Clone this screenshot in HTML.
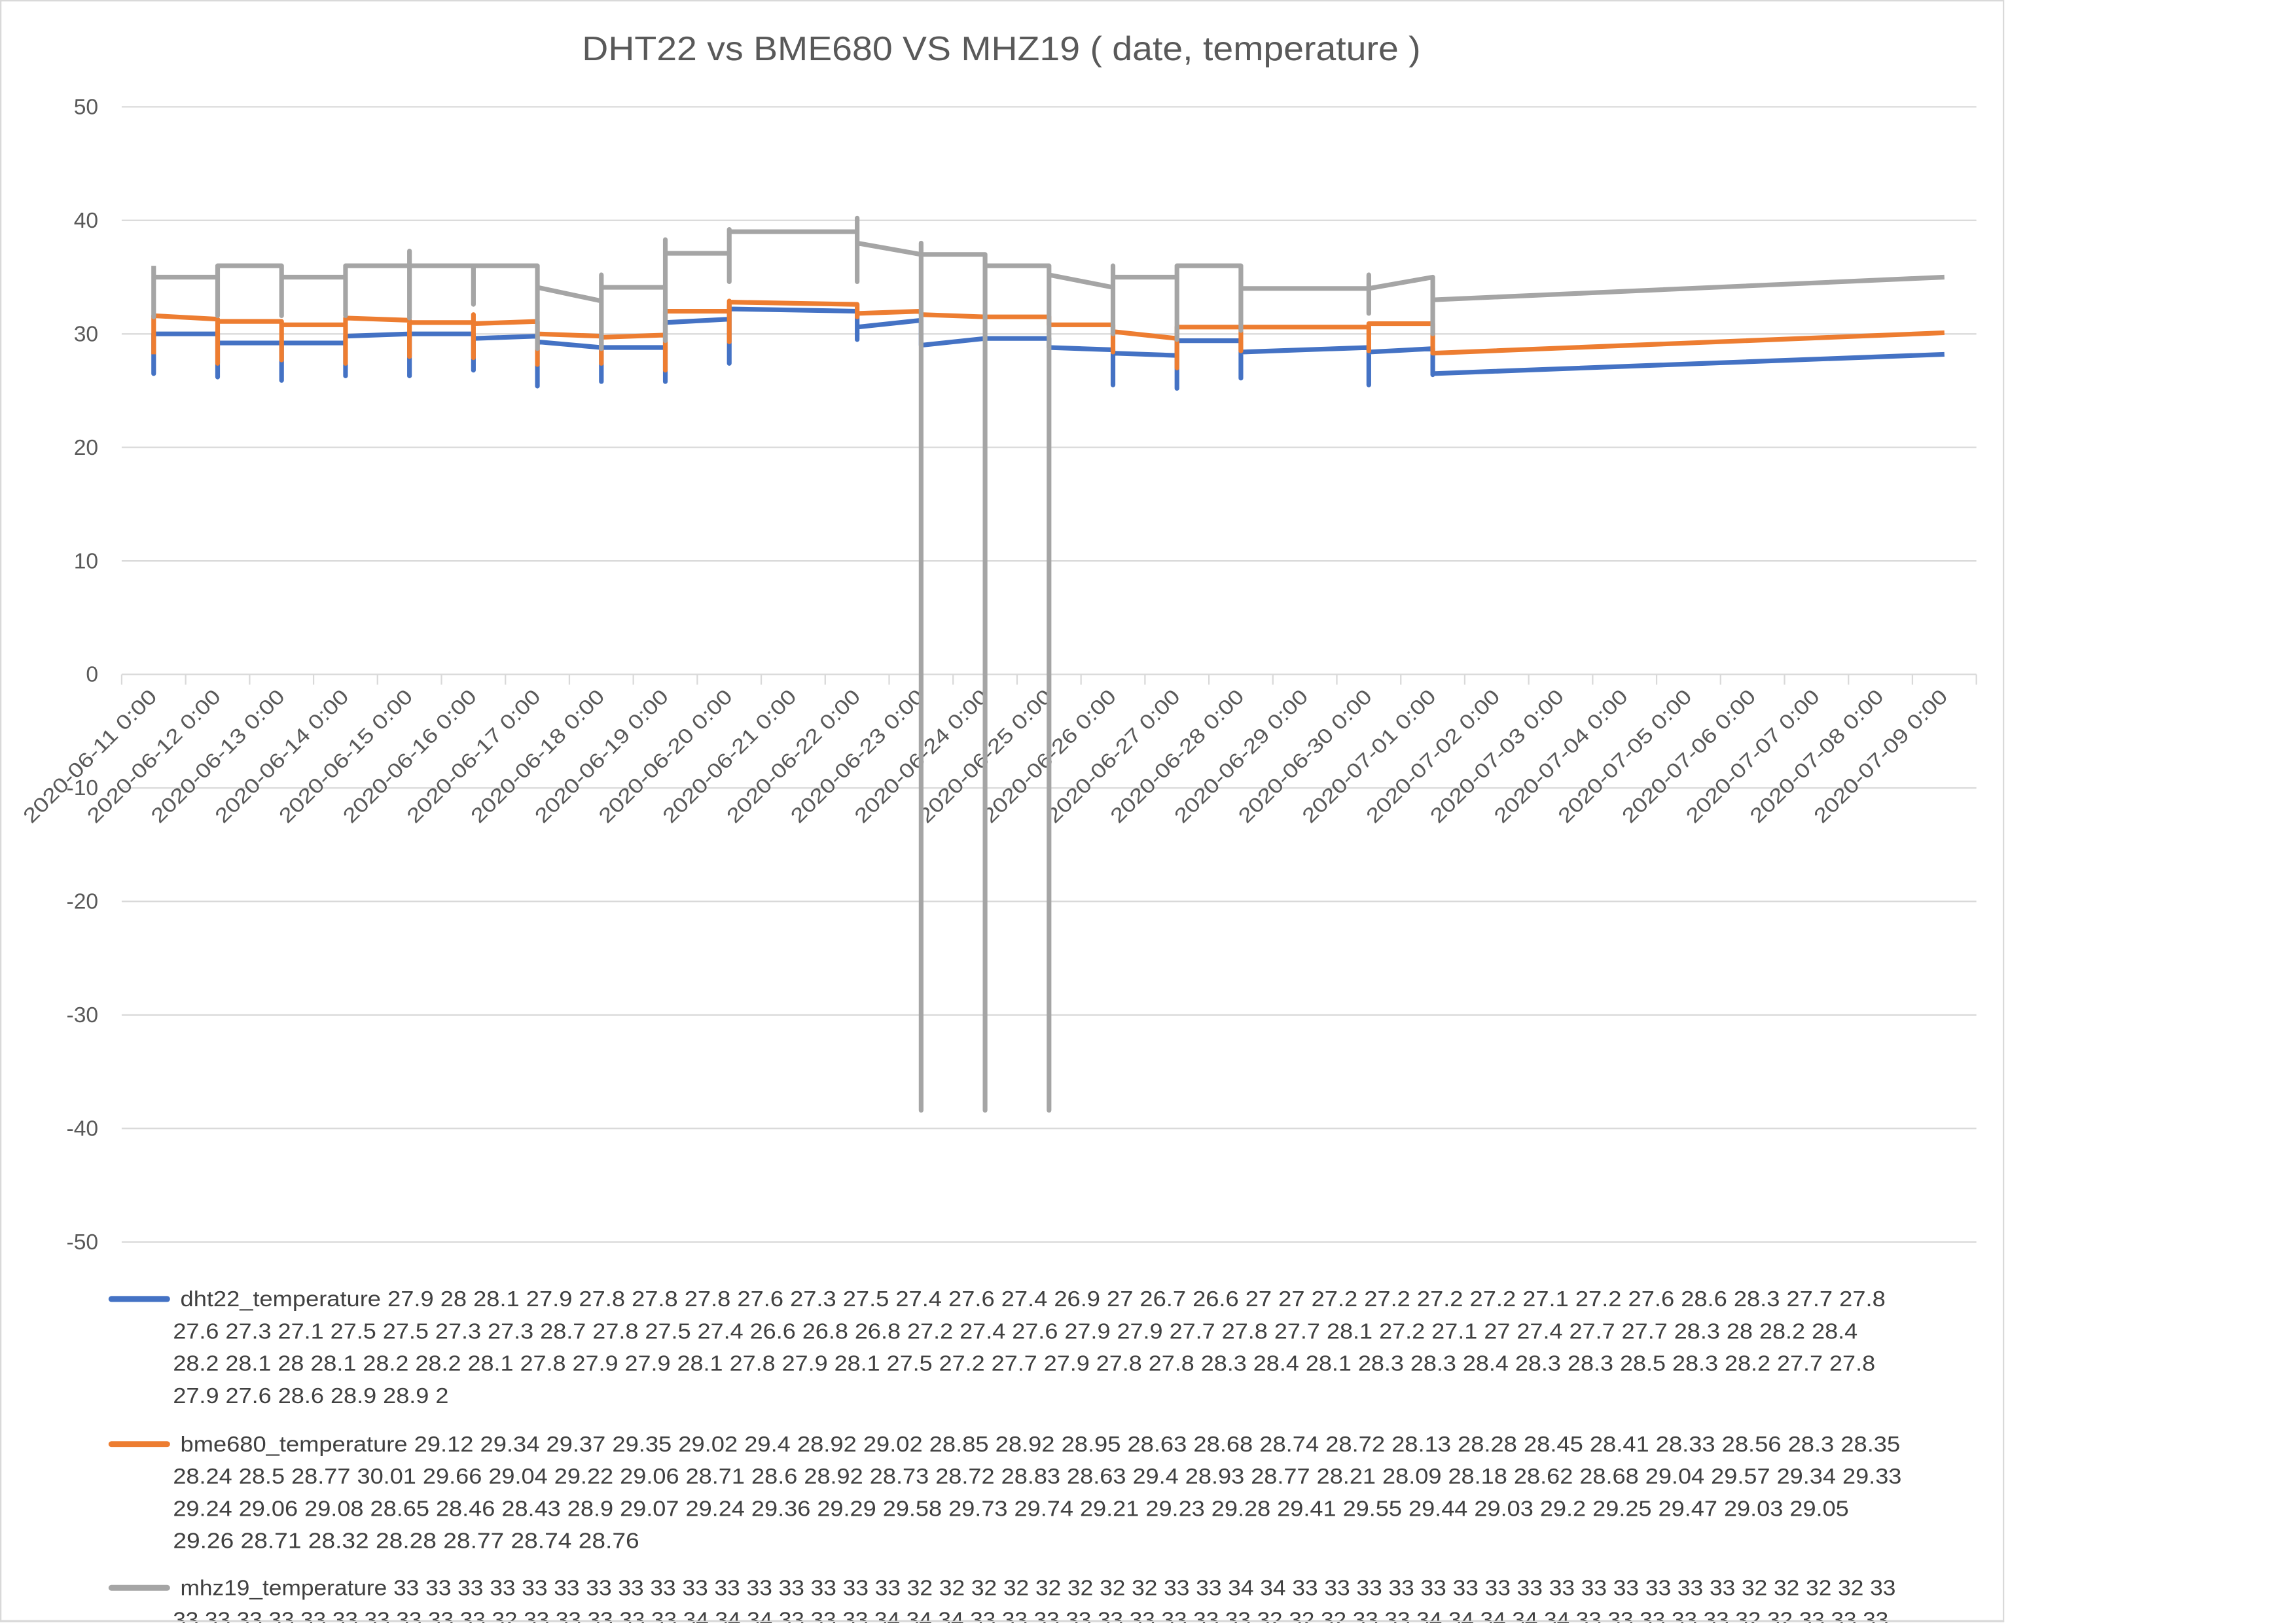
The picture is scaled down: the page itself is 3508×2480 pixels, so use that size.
<!DOCTYPE html>
<html><head><meta charset="utf-8"><style>
html,body{margin:0;padding:0;background:#fff;}
svg{display:block;}
</style></head>
<body>
<svg id="chart" width="3508" height="2480" viewBox="0 0 1566 1107" preserveAspectRatio="none" xmlns="http://www.w3.org/2000/svg" font-family="'Liberation Sans', sans-serif">
<rect x="0" y="0" width="1566" height="1107" fill="#fff"/>
<rect x="0.5" y="0.5" width="1366" height="1105" fill="none" stroke="#d9d9d9" stroke-width="1"/>
<text x="683" y="41" text-anchor="middle" font-size="23" fill="#595959" textLength="572" lengthAdjust="spacingAndGlyphs">DHT22 vs BME680 VS MHZ19 ( date, temperature )</text>
<g id="grid"></g>
<g id="xaxis"></g>
<g id="series"></g>
<g id="legend" font-size="15" fill="#404040">
  <line x1="76" y1="886" x2="114" y2="886" stroke="#4472c4" stroke-width="4" stroke-linecap="round"/>
  <text x="123" y="891" textLength="1163" lengthAdjust="spacingAndGlyphs">dht22_temperature 27.9 28 28.1 27.9 27.8 27.8 27.8 27.6 27.3 27.5 27.4 27.6 27.4 26.9 27 26.7 26.6 27 27 27.2 27.2 27.2 27.2 27.1 27.2 27.6 28.6 28.3 27.7 27.8</text>
  <text x="118" y="913" textLength="1149" lengthAdjust="spacingAndGlyphs">27.6 27.3 27.1 27.5 27.5 27.3 27.3 28.7 27.8 27.5 27.4 26.6 26.8 26.8 27.2 27.4 27.6 27.9 27.9 27.7 27.8 27.7 28.1 27.2 27.1 27 27.4 27.7 27.7 28.3 28 28.2 28.4</text>
  <text x="118" y="935" textLength="1161" lengthAdjust="spacingAndGlyphs">28.2 28.1 28 28.1 28.2 28.2 28.1 27.8 27.9 27.9 28.1 27.8 27.9 28.1 27.5 27.2 27.7 27.9 27.8 27.8 28.3 28.4 28.1 28.3 28.3 28.4 28.3 28.3 28.5 28.3 28.2 27.7 27.8</text>
  <text x="118" y="957" textLength="188" lengthAdjust="spacingAndGlyphs">27.9 27.6 28.6 28.9 28.9 2</text>
  <line x1="76" y1="985" x2="114" y2="985" stroke="#ed7d31" stroke-width="4" stroke-linecap="round"/>
  <text x="123" y="990" textLength="1173" lengthAdjust="spacingAndGlyphs">bme680_temperature 29.12 29.34 29.37 29.35 29.02 29.4 28.92 29.02 28.85 28.92 28.95 28.63 28.68 28.74 28.72 28.13 28.28 28.45 28.41 28.33 28.56 28.3 28.35</text>
  <text x="118" y="1012" textLength="1179" lengthAdjust="spacingAndGlyphs">28.24 28.5 28.77 30.01 29.66 29.04 29.22 29.06 28.71 28.6 28.92 28.73 28.72 28.83 28.63 29.4 28.93 28.77 28.21 28.09 28.18 28.62 28.68 29.04 29.57 29.34 29.33</text>
  <text x="118" y="1034" textLength="1143" lengthAdjust="spacingAndGlyphs">29.24 29.06 29.08 28.65 28.46 28.43 28.9 29.07 29.24 29.36 29.29 29.58 29.73 29.74 29.21 29.23 29.28 29.41 29.55 29.44 29.03 29.2 29.25 29.47 29.03 29.05</text>
  <text x="118" y="1056" textLength="318" lengthAdjust="spacingAndGlyphs">29.26 28.71 28.32 28.28 28.77 28.74 28.76</text>
  <line x1="76" y1="1083" x2="114" y2="1083" stroke="#a5a5a5" stroke-width="4" stroke-linecap="round"/>
  <text x="123" y="1088" textLength="1170" lengthAdjust="spacingAndGlyphs">mhz19_temperature 33 33 33 33 33 33 33 33 33 33 33 33 33 33 33 33 32 32 32 32 32 32 32 32 33 33 34 34 33 33 33 33 33 33 33 33 33 33 33 33 33 33 32 32 32 32 33</text>
  <text x="118" y="1110" textLength="1170" lengthAdjust="spacingAndGlyphs">33 33 33 33 33 33 33 33 33 33 32 33 33 33 33 33 34 34 34 33 33 33 34 34 34 33 33 33 33 33 33 33 33 33 32 32 32 33 33 34 34 34 34 34 33 33 33 33 33 32 32 33 33 33</text>
</g>
<line x1="0" y1="1106" x2="1367" y2="1106" stroke="#d9d9d9" stroke-width="1"/>
</svg>
<script>
const categories = ["2020-06-11 0:00","2020-06-12 0:00","2020-06-13 0:00","2020-06-14 0:00","2020-06-15 0:00","2020-06-16 0:00","2020-06-17 0:00","2020-06-18 0:00","2020-06-19 0:00","2020-06-20 0:00","2020-06-21 0:00","2020-06-22 0:00","2020-06-23 0:00","2020-06-24 0:00","2020-06-25 0:00","2020-06-26 0:00","2020-06-27 0:00","2020-06-28 0:00","2020-06-29 0:00","2020-06-30 0:00","2020-07-01 0:00","2020-07-02 0:00","2020-07-03 0:00","2020-07-04 0:00","2020-07-05 0:00","2020-07-06 0:00","2020-07-07 0:00","2020-07-08 0:00","2020-07-09 0:00"];
const yTicks = [50,40,30,20,10,0,-10,-20,-30,-40,-50];
// readings per day, in plotting order
const mhz19 = [[36,31.5,35],[35,31.6,36],[36,31.6,35],[35,31.6,36],[36,37.3,31.4,36],[36,32.6,36],[36,28.7,34.1],[32.9,28.7,35.2,34.1],[34.1,29.4,38.3,37.1],[37.1,34.6,39.2,39],[],[39,40.2,34.6,38],[37,38,-38.4,37],[37,-38.4,36],[36,-38.4,35.2],[34.1,36,30,35],[35,29.5,36],[36,30.3,34],[],[34,35.2,31.8,34],[35,30,33],[],[],[],[],[],[],[],[35]];
const bme680 = [[28.2,31.6],[31.3,27.4,31.1],[31.1,27.7,30.8],[30.8,27.4,31.4],[31.2,28,31],[31,31.7,27.9,30.9],[31.1,27.3,30],[29.8,27.4,29.7],[29.9,26.8,32],[32,29.3,32.9,32.8],[],[32.6,31.5,31.8],[32,31.7],[31.5],[31.5,30.8],[30.8,28.4,30.2],[29.6,27,30.6],[30.6,28.5,30.6],[],[30.6,28.5,30.9],[30.9,28.3],[],[],[],[],[],[],[],[30.1]];
const dht22 = [[28,26.5,30],[30,26.2,29.2],[29.2,25.9,29.2],[29.2,26.3,29.8],[30,26.3,30],[30,26.8,29.6],[29.8,25.4,29.3],[28.8,25.8,28.8],[28.8,25.8,31],[31.3,27.4,32.5,32.2],[],[32,29.5,30.6],[31.2,29],[29.6],[29.6,28.8],[28.6,25.5,28.3],[28.1,25.2,29.4],[29.4,26.1,28.4],[],[28.8,25.5,28.4],[28.7,26.4,26.5],[],[],[],[],[],[],[],[28.2]];

const NS = "http://www.w3.org/2000/svg";
const L = 83, R = 1348, Y0 = 460, PER = 7.742;
const band = (R - L) / categories.length;
const xPos = i => L + band * (i + 0.5);
const yPos = v => Y0 - v * PER;
function mk(tag, attrs, parent){const e=document.createElementNS(NS,tag);for(const k in attrs)e.setAttribute(k,attrs[k]);parent.appendChild(e);return e;}

const grid = document.getElementById('grid');
yTicks.forEach(t => {
  const g = mk('line',{x1:L,x2:R,y1:yPos(t),y2:yPos(t),stroke:'#d9d9d9','stroke-width':1},grid);
  
  
  const lb = mk('text',{x:67,y:yPos(t)+5,'text-anchor':'end','font-size':15,fill:'#595959'},grid);
  lb.textContent = t;
  
  
});

const xa = document.getElementById('xaxis');
for (let i = 0; i <= categories.length; i++) {
  const tx = L + band * i;
  const tk = mk('line',{x1:tx,x2:tx,y1:Y0,y2:Y0+7,stroke:'#d9d9d9','stroke-width':1},xa);
  
  
}
categories.forEach((c, i) => {
  const x = xPos(i) + 3, y = 476;
  const t = mk('text',{x:x,y:y,'text-anchor':'end','font-size':14,fill:'#595959',transform:`rotate(-45 ${x} ${y})`,textLength:122,lengthAdjust:'spacingAndGlyphs'},xa);
  t.textContent = c;
  
  
});

const sg = document.getElementById('series');
[[dht22,'#4472c4','dht22-line'],[bme680,'#ed7d31','bme680-line'],[mhz19,'#a5a5a5','mhz19-line']].forEach(([data,color,name]) => {
  const pts = [];
  data.forEach((day, i) => day.forEach(v => pts.push(xPos(i).toFixed(2)+','+yPos(v).toFixed(2))));
  const p = mk('polyline',{points:pts.join(' '),fill:'none',stroke:color,'stroke-width':3.2,'stroke-linejoin':'round'},sg);
  
  
});
</script>
</body></html>
